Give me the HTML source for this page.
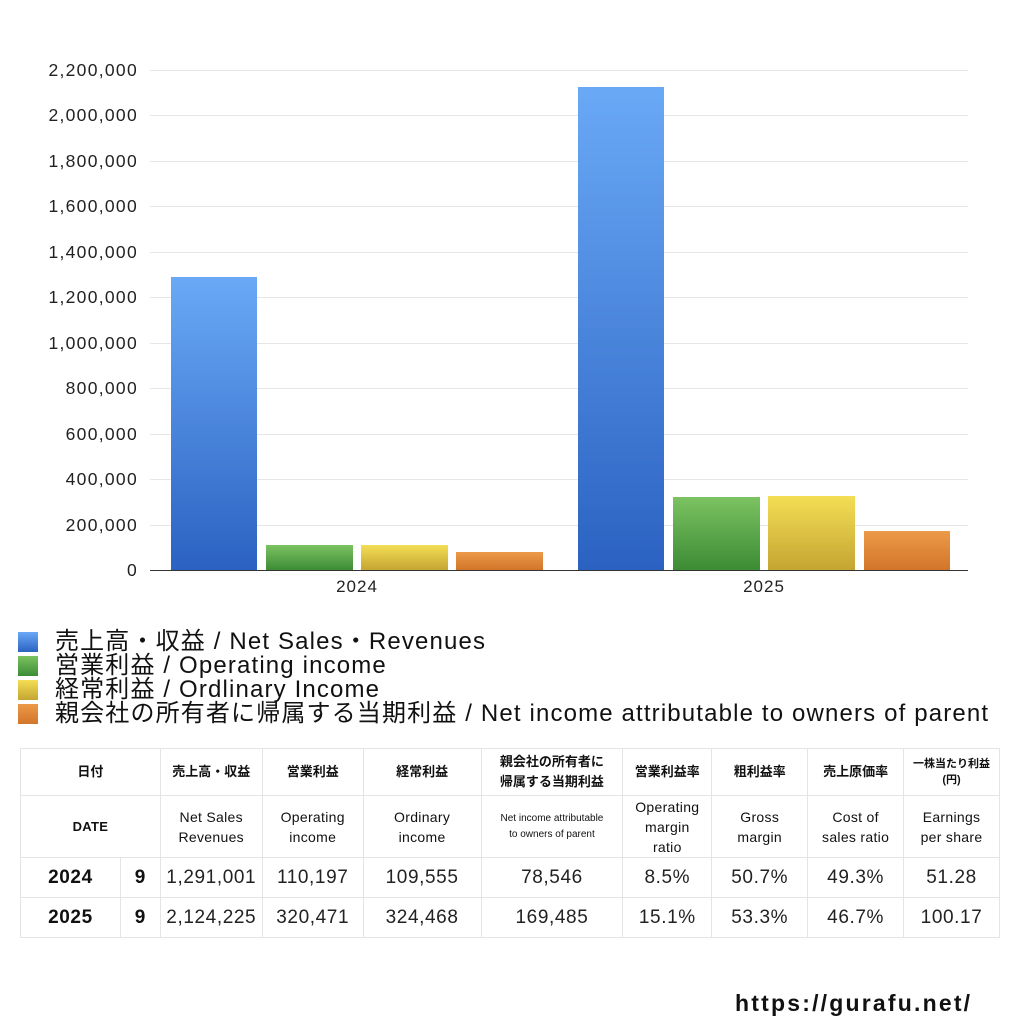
<!DOCTYPE html><html><head><meta charset="utf-8"><style>
body{margin:0;width:1024px;height:1024px;background:#fff;font-family:"Liberation Sans","Noto Sans CJK JP",sans-serif;position:relative;overflow:hidden}
.a{position:absolute}
.lg{position:absolute;left:55px;font-size:24px;color:#111;line-height:24px;letter-spacing:1.15px;white-space:nowrap}
.sq{position:absolute;left:18px;width:20px;height:20px}
table{position:absolute;left:20px;top:748px;border-collapse:collapse;width:980px}
td{border:1px solid #e4e4e4;text-align:center;color:#111;padding:0}
.h1 td{height:46px;font-size:13px;font-weight:bold;line-height:20px}
.h2 td{height:61px;font-size:14px;line-height:20px;letter-spacing:0.3px}
.d td{height:39px;font-size:19px;letter-spacing:0.6px;color:#222}
</style></head><body>
<svg class="a" style="left:0;top:0" width="1024" height="610">
<defs>
<linearGradient id="b" x1="0" y1="0" x2="0" y2="1"><stop offset="0" stop-color="#6aa9f6"/><stop offset="1" stop-color="#2b62c2"/></linearGradient>
<linearGradient id="g" x1="0" y1="0" x2="0" y2="1"><stop offset="0" stop-color="#7cc261"/><stop offset="1" stop-color="#3c8c35"/></linearGradient>
<linearGradient id="y" x1="0" y1="0" x2="0" y2="1"><stop offset="0" stop-color="#f4de55"/><stop offset="1" stop-color="#c4a532"/></linearGradient>
<linearGradient id="o" x1="0" y1="0" x2="0" y2="1"><stop offset="0" stop-color="#ec9a48"/><stop offset="1" stop-color="#d2752a"/></linearGradient>
</defs>
<g stroke="#e6e6e6" stroke-width="1">
<line x1="150" x2="968" y1="70.5" y2="70.5"/><line x1="150" x2="968" y1="115.5" y2="115.5"/><line x1="150" x2="968" y1="161.5" y2="161.5"/><line x1="150" x2="968" y1="206.5" y2="206.5"/><line x1="150" x2="968" y1="252.5" y2="252.5"/><line x1="150" x2="968" y1="297.5" y2="297.5"/><line x1="150" x2="968" y1="343.5" y2="343.5"/><line x1="150" x2="968" y1="388.5" y2="388.5"/><line x1="150" x2="968" y1="434.5" y2="434.5"/><line x1="150" x2="968" y1="479.5" y2="479.5"/><line x1="150" x2="968" y1="525.5" y2="525.5"/>
</g>
<g font-size="17.5" fill="#222" text-anchor="end" letter-spacing="1.3">
<text x="138" y="76">2,200,000</text><text x="138" y="121">2,000,000</text><text x="138" y="167">1,800,000</text><text x="138" y="212">1,600,000</text><text x="138" y="258">1,400,000</text><text x="138" y="303">1,200,000</text><text x="138" y="349">1,000,000</text><text x="138" y="394">800,000</text><text x="138" y="440">600,000</text><text x="138" y="485">400,000</text><text x="138" y="531">200,000</text><text x="138" y="576">0</text>
</g>
<rect x="171" y="277" width="86" height="293" fill="url(#b)"/>
<rect x="266" y="545" width="87" height="25" fill="url(#g)"/>
<rect x="361" y="545" width="87" height="25" fill="url(#y)"/>
<rect x="456" y="552" width="87" height="18" fill="url(#o)"/>
<rect x="578" y="87" width="86" height="483" fill="url(#b)"/>
<rect x="673" y="497" width="87" height="73" fill="url(#g)"/>
<rect x="768" y="496" width="87" height="74" fill="url(#y)"/>
<rect x="864" y="531" width="86" height="39" fill="url(#o)"/>
<line x1="150" x2="968" y1="570.5" y2="570.5" stroke="#333"/>
<g font-size="17" fill="#222" text-anchor="middle" letter-spacing="1"><text x="357" y="592">2024</text><text x="764" y="592">2025</text></g>
</svg>
<div class="sq" style="top:632px;background:linear-gradient(#6aa9f6,#2b62c2)"></div><div class="lg" style="top:630px">売上高・収益 / Net Sales・Revenues</div>
<div class="sq" style="top:656px;background:linear-gradient(#7cc261,#3c8c35)"></div><div class="lg" style="top:654px">営業利益 / Operating income</div>
<div class="sq" style="top:680px;background:linear-gradient(#f4de55,#c4a532)"></div><div class="lg" style="top:678px">経常利益 / Ordlinary Income</div>
<div class="sq" style="top:704px;background:linear-gradient(#ec9a48,#d2752a)"></div><div class="lg" style="top:702px">親会社の所有者に帰属する当期利益 / Net income attributable to owners of parent</div>
<table>
<colgroup><col style="width:100px"><col style="width:40px"><col style="width:102px"><col style="width:101px"><col style="width:118px"><col style="width:142px"><col style="width:89px"><col style="width:96px"><col style="width:96px"><col style="width:96px"></colgroup>
<tr class="h1"><td colspan="2">日付</td><td>売上高・収益</td><td>営業利益</td><td>経常利益</td><td>親会社の所有者に<br>帰属する当期利益</td><td>営業利益率</td><td>粗利益率</td><td>売上原価率</td><td style="font-size:11px;line-height:16px">一株当たり利益<br>(円)</td></tr>
<tr class="h2"><td colspan="2" style="font-size:13px;font-weight:bold">DATE</td><td>Net Sales<br>Revenues</td><td>Operating<br>income</td><td>Ordinary<br>income</td><td style="font-size:10px;line-height:16px;letter-spacing:0">Net income attributable<br>to owners of parent</td><td>Operating<br>margin<br>ratio</td><td>Gross<br>margin</td><td>Cost of<br>sales ratio</td><td>Earnings<br>per share</td></tr>
<tr class="d"><td style="font-weight:bold;color:#111">2024</td><td style="font-weight:bold;color:#111">9</td><td>1,291,001</td><td>110,197</td><td>109,555</td><td>78,546</td><td>8.5%</td><td>50.7%</td><td>49.3%</td><td>51.28</td></tr>
<tr class="d"><td style="font-weight:bold;color:#111">2025</td><td style="font-weight:bold;color:#111">9</td><td>2,124,225</td><td>320,471</td><td>324,468</td><td>169,485</td><td>15.1%</td><td>53.3%</td><td>46.7%</td><td>100.17</td></tr>
</table>
<div class="a" style="left:735px;top:990px;font-size:23px;font-weight:bold;color:#111;letter-spacing:2.2px">https://gurafu.net/</div>
</body></html>
